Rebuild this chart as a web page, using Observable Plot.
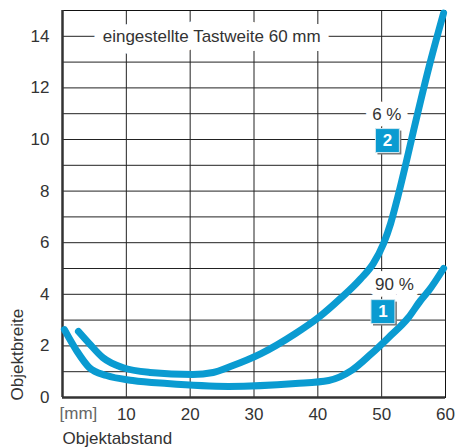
<!DOCTYPE html>
<html>
<head>
<meta charset="utf-8">
<script src="https://cdn.jsdelivr.net/npm/d3@7"></script>
<script src="https://cdn.jsdelivr.net/npm/@observablehq/plot@0.6"></script>
<style>
  body { margin: 0; background: #fff; }
  #chart svg { display: block; }
</style>
</head>
<body>
<div id="chart"></div>
<script>
// Curve 1 (90 %)
const curve1X = [0.3, 2.2, 4.2, 6.9, 11, 16.4, 26, 36.5, 41.7, 45.3, 48.4, 51.1, 54.2, 56.1, 57.4, 59.7];
const curve1Y = [2.63, 1.82, 1.16, 0.85, 0.66, 0.54, 0.43, 0.54, 0.66, 1.05, 1.7, 2.33, 3.1, 3.76, 4.15, 5.0];
// Curve 2 (6 %)
const curve2X = [2.5, 4.2, 6.3, 9.4, 13.7, 20.4, 23.6, 26.3, 31.1, 36.5, 40.1, 43.6, 46.7, 48.7, 50.3, 51.4, 52.5, 53.8, 55.0, 57.4, 59.7];
const curve2Y = [2.56, 2.09, 1.55, 1.16, 0.97, 0.89, 0.97, 1.2, 1.7, 2.48, 3.1, 3.85, 4.6, 5.2, 5.97, 6.74, 7.75, 9.07, 10.35, 12.8, 14.9];

const xTicks = [10, 20, 30, 40, 50, 60];
const yTicks = [0, 2, 4, 6, 8, 10, 12, 14];
const yGrid = [1,2,3,4,5,6,7,8,9,10,11,12,13,14];
const xGrid = [10, 20, 30, 40, 50];

const topLabel = ["eingestellte Tastweite 60 mm"];
const topLabelX = [6.3];
const topLabelY = [14];

const pctLabels = ["90 %", "6 %"];
const pctX = [52.0, 50.8];
const pctY = [4.38, 10.97];

const boxLabels = ["1", "2"];
const boxX = [50.2, 50.9];
const boxY = [3.33, 9.96];

const xUnit = ["[mm]"];
const xTitle = ["Objektabstand"];
const yTitle = ["Objektbreite"];

const blue = "#0a9bd1";
const font = "'Liberation Sans', Arial, sans-serif";
const fs = 17;

const c1 = curve1X.map((x, i) => ({x, y: curve1Y[i]}));
const c2 = curve2X.map((x, i) => ({x, y: curve2Y[i]}));
const pct = pctLabels.map((t, i) => ({t, x: pctX[i], y: pctY[i]}));
const boxes = boxLabels.map((t, i) => ({t, x: boxX[i], y: boxY[i]}));
const tops = topLabel.map((t, i) => ({t, x: topLabelX[i], y: topLabelY[i]}));

const chart = Plot.plot({
  width: 458,
  height: 448,
  marginLeft: 62,
  marginRight: 13,
  marginTop: 10,
  marginBottom: 51,
  style: {fontFamily: font, fontSize: fs + "px", color: "#333", background: "#fff"},
  x: {domain: [0, 60], ticks: xTicks, tickSize: 0, tickPadding: 10, label: null},
  y: {domain: [0, 15], ticks: yTicks, tickSize: 0, tickPadding: 13, label: null},
  marks: [
    Plot.ruleY(yGrid, {stroke: "#222", strokeWidth: 1}),
    Plot.ruleX(xGrid, {stroke: "#222", strokeWidth: 1}),
    Plot.frame({stroke: "#111", strokeWidth: 1}),
    Plot.ruleX([0], {stroke: "#333", strokeWidth: 2.5}),
    Plot.ruleY([0], {stroke: "#333", strokeWidth: 2.5}),
    Plot.text(tops, {x: "x", y: "y", text: "t", textAnchor: "start", fill: "#333", stroke: "white", strokeWidth: 18, strokeLinejoin: "round", fontSize: fs}),
    Plot.text(pct, {x: "x", y: "y", text: "t", fill: "#333", stroke: "white", strokeWidth: 14, strokeLinejoin: "round", fontSize: fs}),
    Plot.line(c1, {x: "x", y: "y", stroke: blue, strokeWidth: 7, strokeLinecap: "round", curve: "monotone-x"}),
    Plot.line(c2, {x: "x", y: "y", stroke: blue, strokeWidth: 7, strokeLinecap: "round", curve: "monotone-x"}),
    Plot.dot(boxes, {x: "x", y: "y", symbol: "square", r: 13.5, fill: "#7a7a7a", dx: 2, dy: 2}),
    Plot.dot(boxes, {x: "x", y: "y", symbol: "square", r: 13.5, fill: blue, stroke: "#cfe6ef", strokeWidth: 1}),
    Plot.text(boxes, {x: "x", y: "y", text: "t", fill: "white", fontWeight: "bold", fontSize: 17}),
    Plot.text(xUnit, {frameAnchor: "bottom-left", dx: -3, dy: 16, lineAnchor: "middle", textAnchor: "start", fill: "#666", fontSize: fs}),
    Plot.text(xTitle, {frameAnchor: "bottom-left", dx: 0, dy: 41, lineAnchor: "middle", textAnchor: "start", fill: "#333", fontSize: fs}),
    Plot.text(yTitle, {frameAnchor: "bottom-left", dx: -45, dy: 3, rotate: -90, lineAnchor: "middle", textAnchor: "start", fill: "#333", fontSize: fs})
  ]
});
document.getElementById("chart").appendChild(chart);
</script>
</body>
</html>
